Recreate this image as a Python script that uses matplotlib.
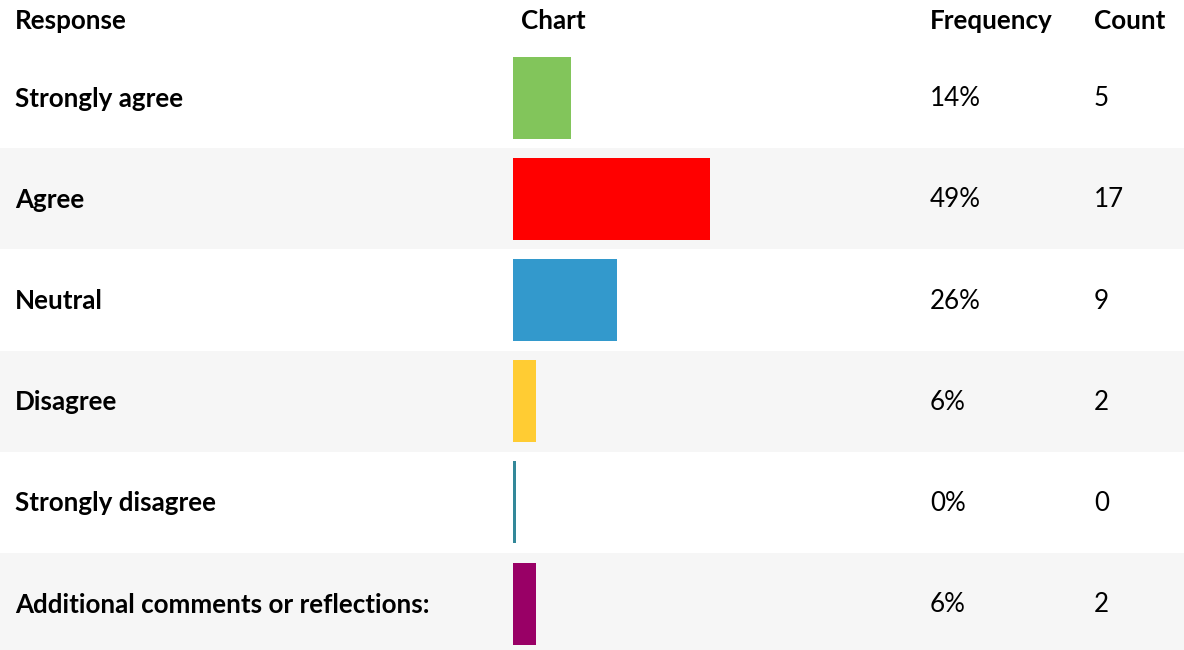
import numpy as np
import matplotlib
matplotlib.use("Agg")
import matplotlib.pyplot as plt

# data
responses = ["Strongly agree", "Agree", "Neutral", "Disagree",
             "Strongly disagree", "Additional comments or reflections:"]
frequency = ["14%", "49%", "26%", "6%", "0%", "6%"]
counts = [5, 17, 9, 2, 0, 2]
total = 35
bar_colors = ["#82c55b", "#ff0000", "#3399cc", "#ffcc33", "#338899", "#990066"]
headers = ["Response", "Chart", "Frequency", "Count"]

plt.rcParams['font.family'] = ['Lato', 'DejaVu Sans']

W, H = 1184, 650
row_px = 101.2
header_px = 47
fs = 18.7

fig = plt.figure(figsize=(W / 100, H / 100), dpi=100)
ax = fig.add_axes([0, 0, 1, 1])
ax.set_xlim(0, W)
top = -0.5 - header_px / row_px
ax.set_ylim(top + H / row_px, top)
ax.axis("off")

n = len(responses)
rows = np.arange(n)

# alternating row backgrounds
for i in rows:
    if i % 2 == 1:
        ax.axhspan(i - 0.5, i + 0.5, color="#f6f6f6", lw=0, zorder=0)

# header
header_y = top + (header_px / row_px) / 2 - 0.02
header_x = [15, 521, 930, 1094]
for x, h in zip(header_x, headers):
    ax.text(x, header_y, h, fontsize=fs, fontweight="bold", va="center", ha="left")

# row texts
for i in rows:
    ax.text(15, i + 0.01, responses[i], fontsize=fs, fontweight="bold", va="center", ha="left")
    ax.text(930, i + 0.01, frequency[i], fontsize=fs, va="center", ha="left")
    ax.text(1094, i + 0.01, str(counts[i]), fontsize=fs, va="center", ha="left")

# bars in their own axes, width = count out of all respondents
bar_left = 513
bar_width_px = 406
bax = fig.add_axes([bar_left / W, 0, bar_width_px / W, 1], sharey=ax)
bax.patch.set_alpha(0)
bax.axis("off")
bax.set_xlim(0, total)
widths = np.maximum(np.array(counts, dtype=float), 0.25)
bax.barh(rows, widths, height=0.81, color=bar_colors, left=0)
bax.set_ylim(top + H / row_px, top)

fig.savefig("out.png", dpi=100)
